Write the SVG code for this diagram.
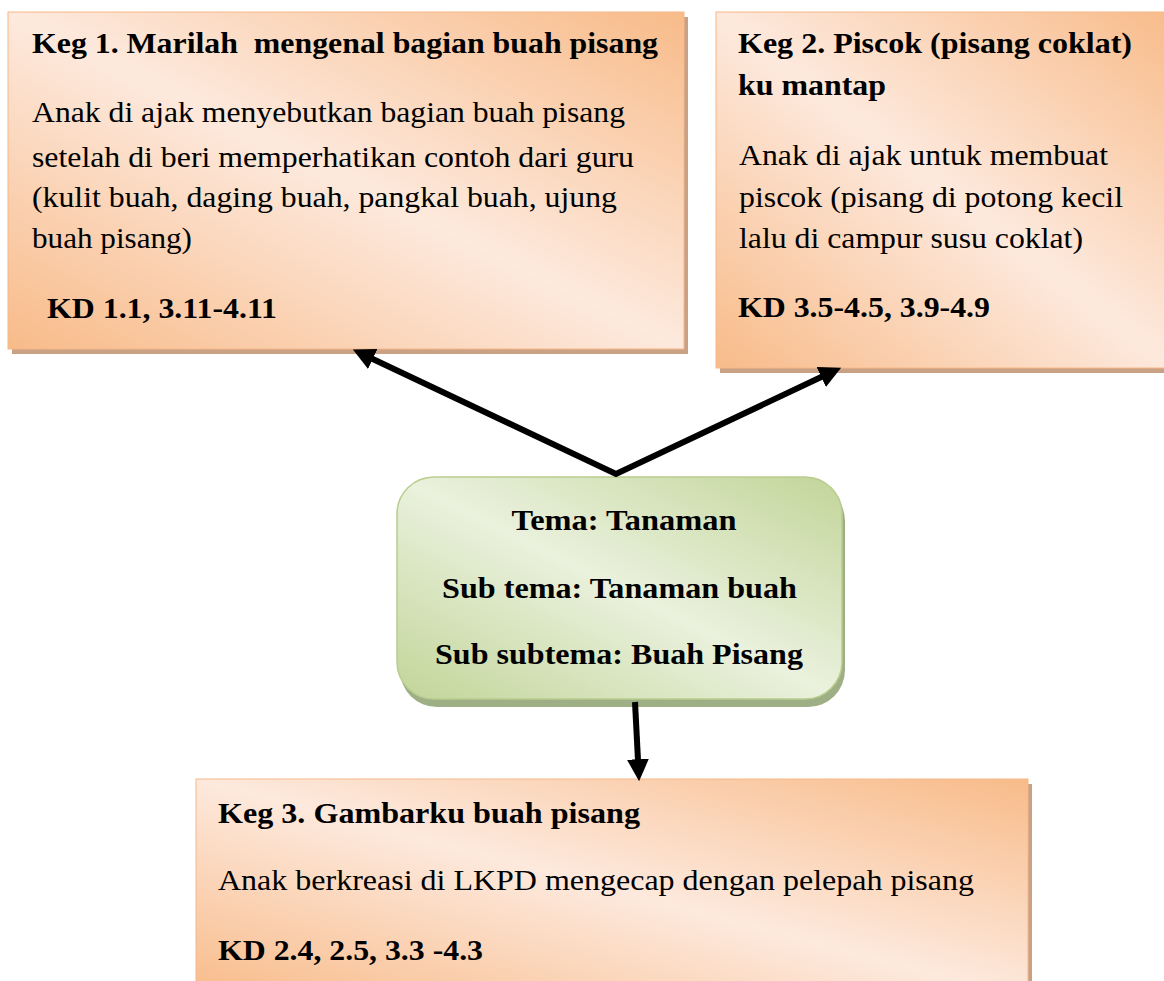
<svg xmlns="http://www.w3.org/2000/svg" width="1164" height="981" viewBox="0 0 1164 981">
  <style>
    .t { font-family: "Liberation Serif", "Times New Roman", serif; fill: #000; white-space: pre; }
    .b { font-weight: bold; font-size: 29px; }
    .r { font-size: 30px; }
    .c { font-weight: bold; font-size: 30px; text-anchor: middle; }
    .obox { fill: url(#orange); stroke: #f6b889; stroke-width: 1; }
    .oshadow { fill: #c9a184; }
    .gbox { fill: url(#green); stroke: #b8cd8e; stroke-width: 1.5; }
    .gshadow { fill: #9eaf86; }
    .conn { fill: none; stroke: #000; stroke-width: 6; stroke-linejoin: miter; }
  </style>
  <defs>
    <linearGradient id="orange" x1="1" y1="0" x2="0" y2="1">
      <stop offset="0" stop-color="#f8bb89"/>
      <stop offset="0.5" stop-color="#fde9dd"/>
      <stop offset="1" stop-color="#f8bb89"/>
    </linearGradient>
    <linearGradient id="green" x1="1" y1="0" x2="0" y2="1">
      <stop offset="0" stop-color="#c2d599"/>
      <stop offset="0.5" stop-color="#eaf1dd"/>
      <stop offset="1" stop-color="#c2d599"/>
    </linearGradient>
    <marker id="arrow" markerUnits="userSpaceOnUse" markerWidth="22" markerHeight="22" viewBox="0 0 20 20" refX="8" refY="10" orient="auto-start-reverse">
      <path d="M0,0 L20,10 L0,20 z" fill="#000"/>
    </marker>
  </defs>
  <rect width="1164" height="981" fill="#fff"/>

  <g id="keg1">
    <rect class="oshadow" x="12" y="17" width="676" height="337"/>
    <rect class="obox" x="8" y="12" width="676" height="337"/>
    <text class="t b" x="32" y="53" textLength="626" lengthAdjust="spacingAndGlyphs">Keg 1. Marilah  mengenal bagian buah pisang</text>
    <text class="t r" x="32" y="122" textLength="593" lengthAdjust="spacingAndGlyphs">Anak di ajak menyebutkan bagian buah pisang</text>
    <text class="t r" x="32" y="167" textLength="602" lengthAdjust="spacingAndGlyphs">setelah di beri memperhatikan contoh dari guru</text>
    <text class="t r" x="32" y="207" textLength="585" lengthAdjust="spacingAndGlyphs">(kulit buah, daging buah, pangkal buah, ujung</text>
    <text class="t r" x="32" y="248" textLength="160" lengthAdjust="spacingAndGlyphs">buah pisang)</text>
    <text class="t b" x="47" y="318" textLength="230" lengthAdjust="spacingAndGlyphs">KD 1.1, 3.11-4.11</text>
  </g>

  <g id="keg2">
    <rect class="oshadow" x="720" y="17" width="460" height="356"/>
    <rect class="obox" x="716" y="12" width="460" height="356"/>
    <text class="t b" x="738" y="53" textLength="394" lengthAdjust="spacingAndGlyphs">Keg 2. Piscok (pisang coklat)</text>
    <text class="t b" x="738" y="95" textLength="148" lengthAdjust="spacingAndGlyphs">ku mantap</text>
    <text class="t r" x="739" y="165" textLength="369" lengthAdjust="spacingAndGlyphs">Anak di ajak untuk membuat</text>
    <text class="t r" x="739" y="207" textLength="384" lengthAdjust="spacingAndGlyphs">piscok (pisang di potong kecil</text>
    <text class="t r" x="739" y="248" textLength="344" lengthAdjust="spacingAndGlyphs">lalu di campur susu coklat)</text>
    <text class="t b" x="738" y="317" textLength="252" lengthAdjust="spacingAndGlyphs">KD 3.5-4.5, 3.9-4.9</text>
  </g>

  <g id="tema">
    <rect class="gshadow" x="400" y="484" width="445" height="223" rx="37" ry="37"/>
    <rect class="gbox" x="397" y="477" width="445" height="222" rx="37" ry="37"/>
    <text class="t c" x="624" y="530" textLength="225" lengthAdjust="spacingAndGlyphs">Tema: Tanaman</text>
    <text class="t c" x="619.5" y="598" textLength="355" lengthAdjust="spacingAndGlyphs">Sub tema: Tanaman buah</text>
    <text class="t c" x="619" y="664" textLength="368" lengthAdjust="spacingAndGlyphs">Sub subtema: Buah Pisang</text>
  </g>

  <g id="keg3">
    <rect class="oshadow" x="200" y="784" width="832" height="220"/>
    <rect class="obox" x="196" y="779" width="832" height="220"/>
    <text class="t b" x="218" y="823" textLength="422" lengthAdjust="spacingAndGlyphs">Keg 3. Gambarku buah pisang</text>
    <text class="t r" x="218" y="890" textLength="756" lengthAdjust="spacingAndGlyphs">Anak berkreasi di LKPD mengecap dengan pelepah pisang</text>
    <text class="t b" x="218" y="960" textLength="265" lengthAdjust="spacingAndGlyphs">KD 2.4, 2.5, 3.3 -4.3</text>
  </g>

  <g id="connectors">
    <path class="conn" d="M364.8,355.2 L616,474 L829.2,373.3" marker-start="url(#arrow)" marker-end="url(#arrow)"/>
    <path class="conn" d="M635,702 L638.4,768" marker-end="url(#arrow)"/>
  </g>
</svg>
